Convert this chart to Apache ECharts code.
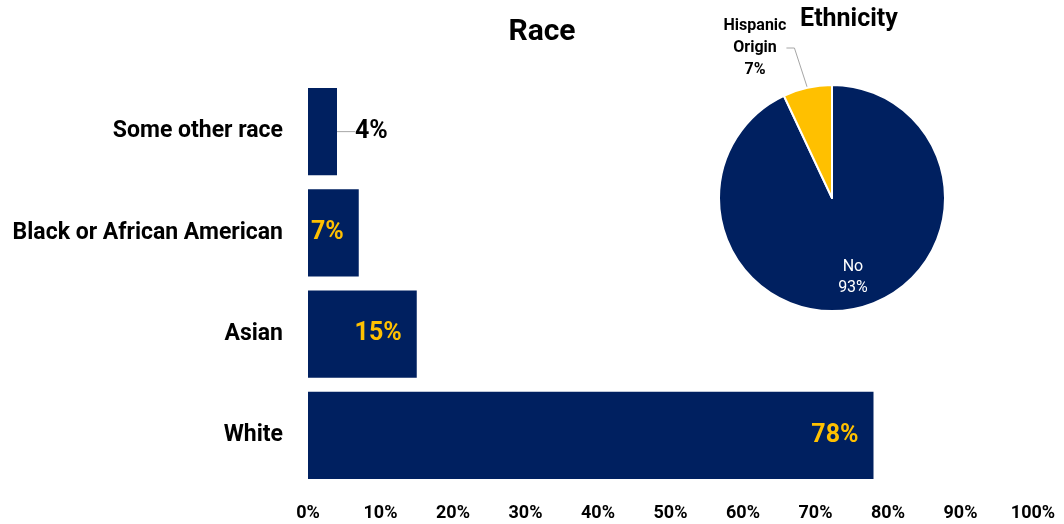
<!DOCTYPE html>
<html><head><meta charset="utf-8">
<script src="https://cdn.jsdelivr.net/npm/echarts@6/dist/echarts.min.js"></script>
<style>html,body{margin:0;padding:0;background:#fff}#c{width:1064px;height:524px}</style>
</head><body><div id="c"></div>
<script>
const raceCategories = ['White', 'Asian', 'Black or African American', 'Some other race'];
const raceValues = [78, 15, 7, 4];
const xTicks = [0, 10, 20, 30, 40, 50, 60, 70, 80, 90, 100];
const ethnicityNames = ['No', 'Hispanic\nOrigin'];
const ethnicityValues = [93, 7];

const NAVY = '#002060', GOLD = '#FFC000';
const FONT = '"Roboto", "Liberation Sans", sans-serif';

const chart = echarts.init(document.getElementById('c'));
chart.setOption({
  animation: false,
  backgroundColor: '#fff',
  title: [
    { text: 'Race', left: 537, top: 12, textAlign: 'center',
      textStyle: { fontFamily: FONT, fontWeight: 'bold', fontSize: 30, color: '#000' } },
    { text: 'Ethnicity', left: 844, top: 2, textAlign: 'center',
      textStyle: { fontFamily: FONT, fontWeight: 'bold', fontSize: 25, color: '#000' } }
  ],
  grid: { left: 308, right: 31, top: 81, bottom: 38, containLabel: false },
  xAxis: {
    type: 'value', min: 0, max: 100, interval: 10,
    axisLine: { show: false }, axisTick: { show: false }, splitLine: { show: false },
    axisLabel: { margin: 18, formatter: v => v + '%', fontFamily: FONT, fontWeight: 'bold', fontSize: 18, color: '#000' }
  },
  yAxis: {
    type: 'category', data: raceCategories,
    axisLine: { show: false }, axisTick: { show: false },
    axisLabel: { margin: 25, fontFamily: FONT, fontWeight: 'bold', fontSize: 23, color: '#000' }
  },
  series: [
    {
      type: 'bar',
      data: raceValues.map(v => ({
        value: v,
        label: v < 5 ? { position: 'right', distance: 4, color: '#000' } : {}
      })),
      barCategoryGap: '14%',
      itemStyle: { color: NAVY },
      label: { show: true, position: 'insideRight', distance: 15, formatter: p => p.value + '%',
        fontFamily: FONT, fontWeight: 'bold', fontSize: 25, color: GOLD },
      labelLine: { show: true, lineStyle: { color: '#a6a6a6', width: 1 } },
      labelLayout: p => raceValues[p.dataIndex] < 5 ? { dx: 14 } : {},
      emphasis: { disabled: true }
    },
    {
      type: 'pie', center: [832, 198], radius: 113, startAngle: 90, clockwise: true,
      data: ethnicityValues.map((v, i) => ({
        name: ethnicityNames[i], value: v,
        itemStyle: { color: i === 0 ? NAVY : GOLD },
        label: i === 0
          ? { position: 'inside', color: '#fff', fontWeight: 'normal', fontSize: 16, lineHeight: 21 }
          : { position: 'outside', color: '#000', fontWeight: 'bold', fontSize: 16, lineHeight: 22, align: 'center' },
        labelLine: { show: i !== 0 }
      })),
      itemStyle: { borderColor: '#fff', borderWidth: 2 },
      label: { show: true, formatter: '{b}\n{c}%', fontFamily: FONT },
      labelLine: { length: 36, length2: 8, lineStyle: { color: '#a6a6a6', width: 1 } },
      labelLayout: p => p.dataIndex === 0
        ? { dx: 8, dy: 21 }
        : { x: 755, y: 48, align: 'center', verticalAlign: 'middle' },
      emphasis: { disabled: true }
    }
  ]
});
</script></body></html>
